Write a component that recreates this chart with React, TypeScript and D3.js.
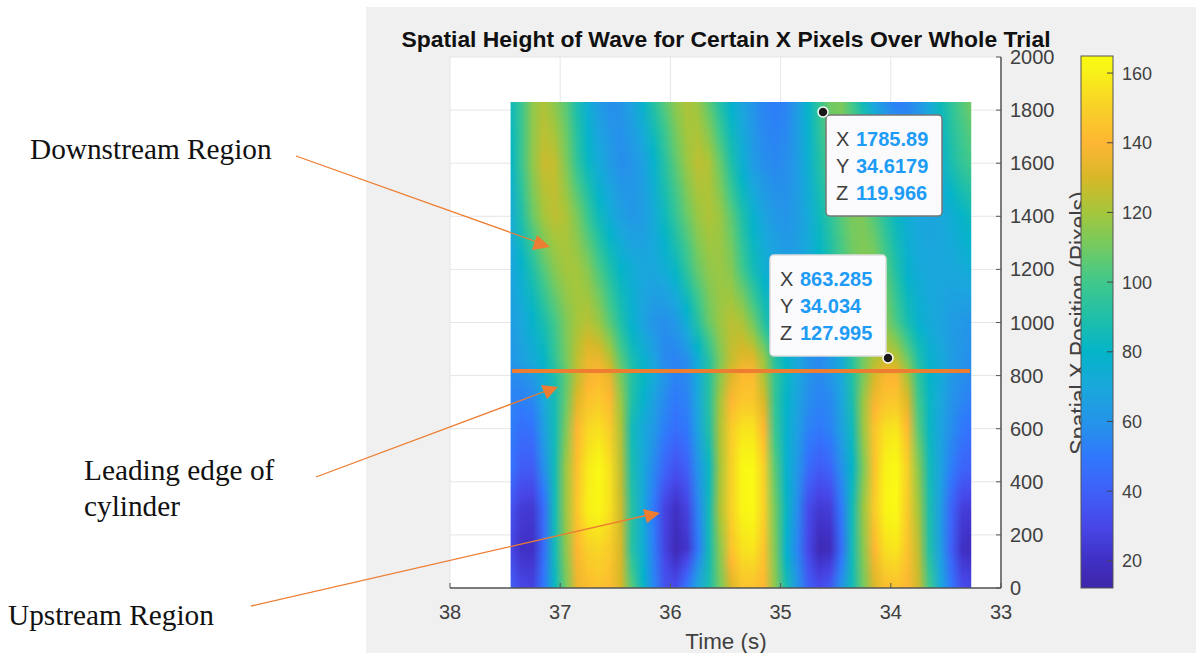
import React from "react";
import * as d3 from "d3";

// Time samples (s), left to right on the reversed axis
const times = [37.45,37.35,37.25,37.15,37.05,36.95,36.85,36.75,36.65,36.55,36.45,36.35,36.25,36.15,36.05,35.95,35.85,35.75,35.65,35.55,35.45,35.35,35.25,35.15,35.05,34.95,34.85,34.75,34.65,34.55,34.45,34.35,34.25,34.15,34.05,33.95,33.85,33.75,33.65,33.55,33.45,33.35,33.27];
// Spatial positions (pixels), bottom to top
const positions = [0,150,300,450,600,700,790,860,1000,1200,1400,1600,1830];
// Wave height at each position and time
const h0 = [40,30,28,50,82,110,135,142,145,142,130,105,82,55,35,32,50,70,88,110,130,145,145,140,115,88,62,40,32,38,60,85,110,130,143,145,140,128,100,72,50,32,30];
const h150 = [30,20,20,45,85,115,140,150,152,148,130,92,75,52,28,16,22,50,85,115,145,155,157,145,112,78,55,30,16,18,45,85,115,140,155,157,145,125,90,65,40,20,18];
const h300 = [35,25,24,45,85,118,146,160,163,155,128,92,72,50,28,20,28,55,85,122,150,162,164,150,110,82,58,32,24,26,50,85,118,148,162,164,148,120,88,65,42,26,25];
const h450 = [48,38,38,58,85,118,144,158,164,155,125,88,72,56,42,34,40,60,82,120,150,163,164,150,105,78,62,45,38,42,58,80,112,145,161,164,150,115,85,68,52,42,40];
const h600 = [52,46,48,65,85,112,140,152,155,148,122,85,72,62,52,46,50,68,90,122,148,156,156,140,98,78,66,54,50,54,66,84,118,145,155,157,142,105,82,68,58,50,48];
const h700 = [54,52,55,70,86,108,132,145,148,142,118,90,78,66,56,50,54,70,92,120,140,147,147,130,96,80,68,58,54,56,68,88,118,138,146,147,132,100,82,70,60,55,52];
const h790 = [56,58,62,74,88,106,125,138,142,135,112,92,82,72,60,54,56,72,92,115,132,142,142,122,96,82,70,60,56,60,70,90,112,130,140,140,122,95,80,72,62,58,56];
const h860 = [60,66,72,80,95,110,125,135,135,125,105,88,78,68,56,54,58,74,92,112,126,133,133,118,92,80,70,60,56,62,72,92,110,122,128,125,110,90,78,72,64,60,58];
const h1000 = [64,70,78,88,100,112,120,124,118,105,90,78,68,60,58,62,75,92,108,118,124,122,110,92,78,68,60,58,64,76,92,106,114,118,114,102,88,78,72,68,64,62,60];
const h1200 = [68,78,90,104,114,120,120,114,102,90,80,74,70,70,74,82,95,108,116,118,114,100,86,76,70,66,66,72,78,88,100,108,114,114,104,90,78,72,70,70,70,72,74];
const h1400 = [72,90,108,120,125,122,112,98,84,74,66,62,64,72,84,96,108,118,122,118,106,90,78,68,62,60,64,72,84,94,104,112,112,104,92,82,74,70,68,70,74,80,84];
const h1600 = [80,98,116,127,126,113,96,82,72,64,58,60,66,78,92,106,118,125,122,108,90,76,64,58,56,58,64,76,90,102,110,112,108,92,78,68,62,62,66,76,88,96,100];
const h1830 = [84,98,116,122,115,105,88,75,64,58,60,68,78,92,105,116,122,118,105,90,78,68,60,54,52,54,64,80,96,110,112,100,84,68,58,53,54,60,72,84,95,104,110];
const grid = [h0,h150,h300,h450,h600,h700,h790,h860,h1000,h1200,h1400,h1600,h1830];

const xTicks = [38,37,36,35,34,33];
const yTicks = [0,200,400,600,800,1000,1200,1400,1600,1800,2000];
const cTicks = [20,40,60,80,100,120,140,160];
// Colour bar: value and colour
const colorValues = [12.2,20,30,40,50,60,70,80,90,100,110,120,130,140,150,160,164.9];
const colorStops = ["#3e26a8","#4030c4","#4747e8","#3f60f8","#3078fc","#2494e8","#1aa8dc","#04b4c8","#20bfa8","#40c88c","#72ca62","#a4c63c","#d8b828","#feb632","#f8d028","#f8f018","#fafb14"];
const tips = [
  { rows: [["X","1785.89"],["Y","34.6179"],["Z","119.966"]] },
  { rows: [["X","863.285"],["Y","34.034"],["Z","127.995"]] },
];

const x = d3.scaleLinear().domain([38,33]).range([450,1001]);
const y = d3.scaleLinear().domain([0,2000]).range([588,57]);
const cy = d3.scaleLinear().domain([12.2,164.9]).range([588,56]);
const color = d3.scaleLinear<string>().domain(colorValues).range(colorStops).interpolate(d3.interpolateRgb).clamp(true);

const SANS = "'Liberation Sans', Arial, sans-serif";
const SERIF = "'Liberation Serif', 'Times New Roman', serif";
const ORANGE = "#ed7d31";
const INK = "#404040";

function valueAt(pos: number, c: number) {
  const i = Math.min(d3.bisectRight(positions, pos) - 1, positions.length - 2);
  const k = (pos - positions[i]) / (positions[i + 1] - positions[i]);
  return grid[i][c] * (1 - k) + grid[i + 1][c] * k;
}

function strips() {
  const out: { py: number; id: string; stops: { o: number; c: string }[] }[] = [];
  const x0 = x(times[0]), x1 = x(times[times.length - 1]);
  const top = Math.round(y(positions[positions.length - 1])), bot = Math.round(y(0));
  for (let py = top; py < bot; py += 2) {
    const pos = y.invert(py + 1);
    out.push({
      py, id: "s" + py,
      stops: times.map((t, c) => ({ o: (x(t) - x0) / (x1 - x0), c: color(valueAt(pos, c)) })),
    });
  }
  return out;
}

export default function App() {
  const rows = React.useMemo(strips, []);
  const x0 = x(times[0]), x1 = x(times[times.length - 1]);
  const cMin = colorValues[0], cMax = colorValues[colorValues.length - 1];
  return (
    <svg width={1196} height={653} style={{ position: "absolute", left: 0, top: 0, background: "#fff" }}>
      <defs>
        {rows.map(r => (
          <linearGradient key={r.id} id={r.id} gradientUnits="userSpaceOnUse" x1={x0} x2={x1} y1={0} y2={0}>
            {r.stops.map((s, i) => <stop key={i} offset={s.o} stopColor={s.c} />)}
          </linearGradient>
        ))}
        <linearGradient id="cbar" x1={0} x2={0} y1={1} y2={0}>
          {colorValues.map((v, i) => <stop key={i} offset={(v - cMin) / (cMax - cMin)} stopColor={colorStops[i]} />)}
        </linearGradient>
      </defs>

      <rect x={366} y={7} width={830} height={646} fill="#f0f0f0" />
      <rect x={x(38)} y={y(2000)} width={x(33) - x(38)} height={y(0) - y(2000)} fill="#fff" />

      <g stroke="#e6e6e6" strokeWidth={1}>
        {xTicks.map(t => <line key={t} x1={x(t)} x2={x(t)} y1={y(0)} y2={y(2000)} />)}
        {yTicks.map(t => <line key={t} x1={x(38)} x2={x(33)} y1={y(t)} y2={y(t)} />)}
      </g>

      <g>
        {rows.map(r => <rect key={r.id} x={x0} y={r.py} width={x1 - x0} height={2} fill={`url(#${r.id})`} />)}
      </g>

      <g stroke="#555" strokeWidth={1.5} fill="none">
        <line x1={x(38)} x2={x(33)} y1={y(0)} y2={y(0)} />
        <line x1={x(33)} x2={x(33)} y1={y(0)} y2={y(2000)} />
        {xTicks.map(t => <line key={t} x1={x(t)} x2={x(t)} y1={y(0)} y2={y(0) - 5} strokeWidth={1} />)}
        {yTicks.map(t => <line key={t} x1={x(33)} x2={x(33) - 5} y1={y(t)} y2={y(t)} strokeWidth={1} />)}
      </g>

      <g fontFamily={SANS} fontSize={20} fill={INK}>
        {xTicks.map(t => <text key={t} x={x(t)} y={619} textAnchor="middle">{t}</text>)}
        {yTicks.map(t => <text key={t} x={1010} y={y(t) + 7}>{t}</text>)}
        <text x={726} y={648.5} textAnchor="middle" fontSize={22.4}>Time (s)</text>
        <text transform="translate(1087,323) rotate(-90)" textAnchor="middle" fontSize={23}>Spatial X Position (Pixels)</text>
      </g>
      <text x={726} y={47} textAnchor="middle" fontFamily={SANS} fontWeight="bold" fontSize={22.9} fill="#111">
        Spatial Height of Wave for Certain X Pixels Over Whole Trial
      </text>

      <rect x={1081} y={56} width={32} height={532} fill="url(#cbar)" stroke="#555" strokeWidth={1} />
      <g stroke="#444" strokeWidth={1}>
        {cTicks.map(t => <line key={t} x1={1107} x2={1113} y1={cy(t)} y2={cy(t)} />)}
      </g>
      <g fontFamily={SANS} fontSize={18} fill={INK}>
        {cTicks.map(t => <text key={t} x={1122} y={cy(t) + 6.5}>{t}</text>)}
      </g>

      <line x1={512} x2={970} y1={371} y2={371} stroke={ORANGE} strokeWidth={4} />

      {[{ bx: 826, by: 115, mx: 823, my: 112 }, { bx: 770, by: 255, mx: 888, my: 358 }].map((b, i) => (
        <g key={i}>
          <rect x={b.bx} y={b.by} width={116} height={101} rx={4} fill="#fbfbfd" stroke={i === 0 ? "#777" : "#ddd"} strokeWidth={1.5} />
          {tips[i].rows.map((r, j) => (
            <g key={j} fontFamily={SANS} fontSize={20}>
              <text x={b.bx + 10} y={b.by + 31 + j * 27} fill={INK}>{r[0]}</text>
              <text x={b.bx + 30} y={b.by + 31 + j * 27} fill="#1e9bf5" fontWeight="bold">{r[1]}</text>
            </g>
          ))}
          <circle cx={b.mx} cy={b.my} r={5} fill="#1a1a1a" stroke="#fff" strokeWidth={1.5} />
        </g>
      ))}

      <g stroke={ORANGE} strokeWidth={1.3}>
        <line x1={296} y1={156} x2={540} y2={243} />
        <line x1={316} y1={477} x2={546} y2={391} />
        <line x1={251} y1={606} x2={648} y2={515} />
      </g>
      <g fill={ORANGE}>
        <polygon points="550,247 537,235 532,250" />
        <polygon points="558,387 541,385 547,399" />
        <polygon points="660,513 643,509 647,523" />
      </g>

      <g fontFamily={SERIF} fontSize={29.3} fill="#111">
        <text x={30} y={159}>Downstream Region</text>
        <text x={84} y={480}>Leading edge of</text>
        <text x={84} y={516}>cylinder</text>
        <text x={8} y={625}>Upstream Region</text>
      </g>
    </svg>
  );
}
